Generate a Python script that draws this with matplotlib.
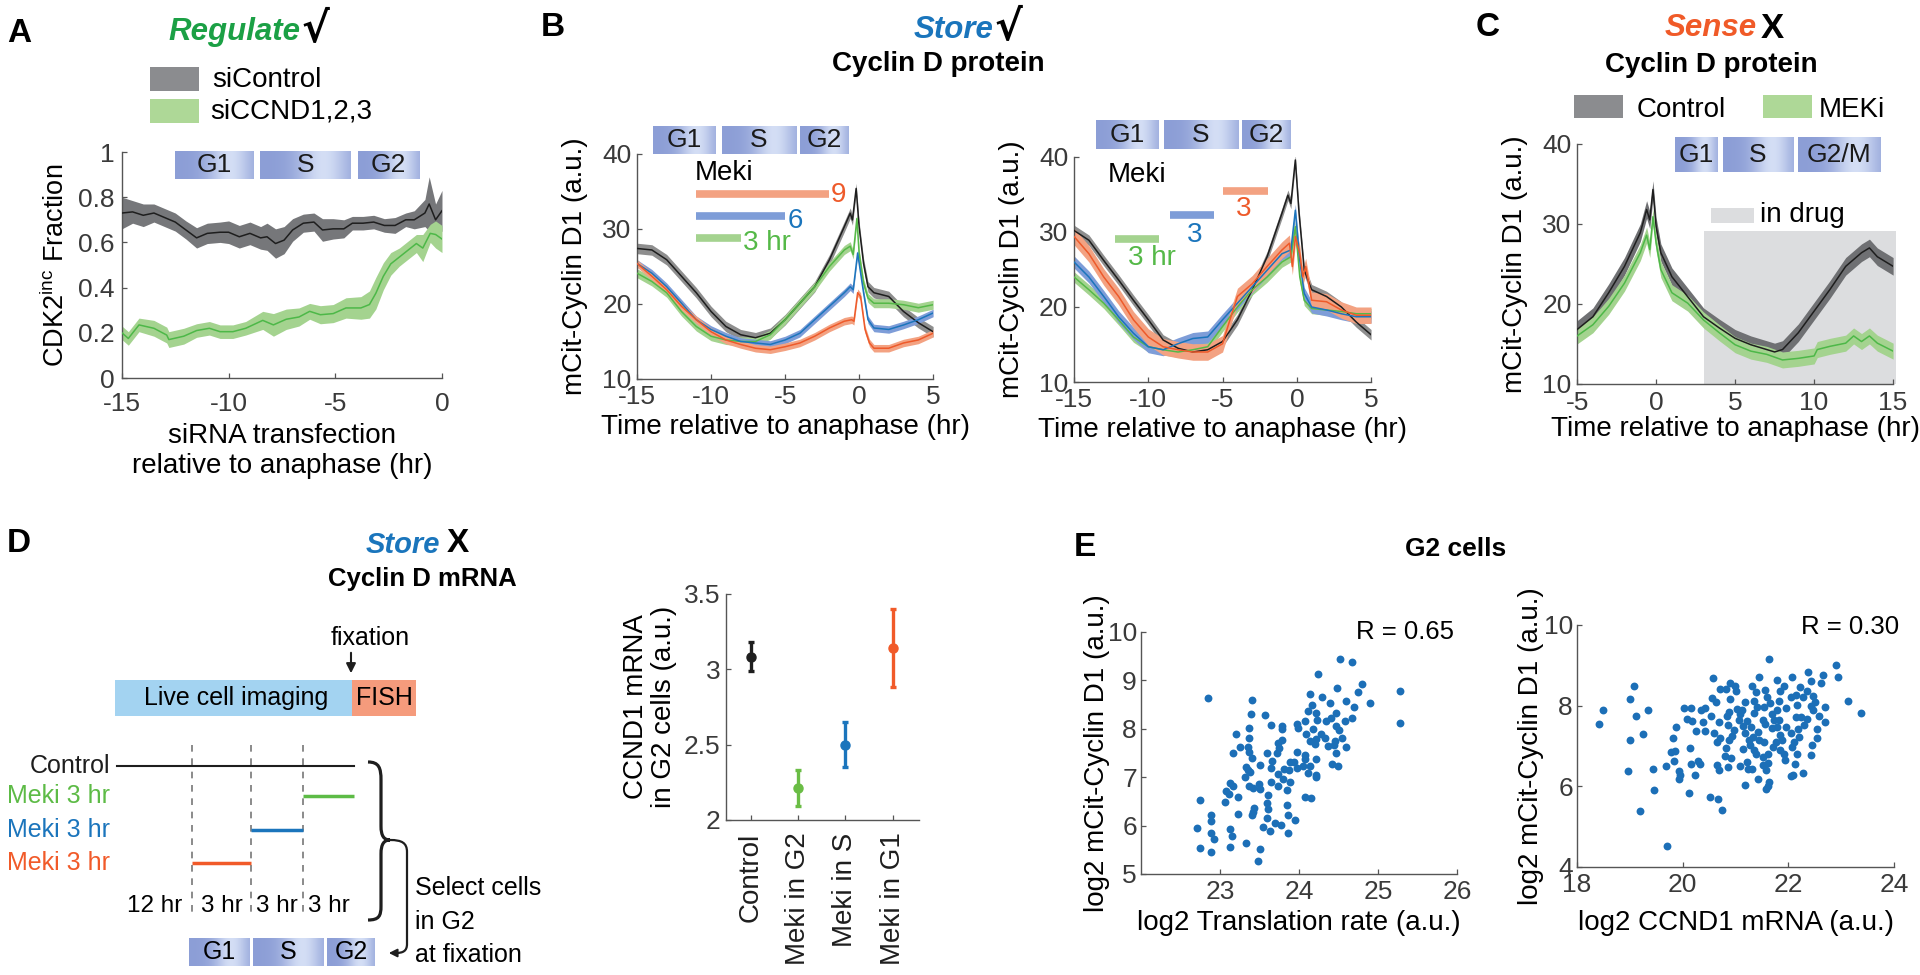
import numpy as np
import matplotlib
matplotlib.use("Agg")
import matplotlib.pyplot as plt
from matplotlib.patches import Rectangle, PathPatch
from matplotlib.path import Path

plt.rcParams['font.family'] = ['Liberation Sans', 'DejaVu Sans']
plt.rcParams['axes.unicode_minus'] = False

# --- colours ---
GREEN_T = '#1BA045'
BLUE_T = '#1A75BC'
ORANGE_T = '#F05A28'
C_BLACK = '#1e1e1e'
C_GREEN = '#55B948'
C_BLUE = '#1B75BC'
C_RED = '#EE5A2A'
B_GREEN = '#A4D38F'
B_BLUE = '#7E9DD8'
B_RED = '#F3A282'
SCAT = '#1C6FB7'
TICK_C = '#3a3a3a'

# --- panel A: CDK2inc fraction ---
a_ctrl_t = [-15, -14.5, -14, -13.5, -13, -12.5, -12, -11.5, -11, -10.4, -10, -9.5, -9, -8.5, -8.2, -7.8, -7.4,
            -7, -6.5, -6, -5.6, -5.1, -4.6, -4.2, -3.7, -3.2, -2.7, -2.2, -1.7, -1.3, -0.8, -0.6, -0.3, 0]
a_ctrl_v = [0.73, 0.735, 0.72, 0.73, 0.71, 0.69, 0.655, 0.62, 0.64, 0.645, 0.645, 0.625, 0.64, 0.62, 0.625, 0.595,
            0.61, 0.655, 0.685, 0.69, 0.655, 0.66, 0.66, 0.685, 0.685, 0.69, 0.675, 0.675, 0.70, 0.70, 0.73, 0.77,
            0.70, 0.74]
a_ctrl_hw = [0.07, 0.05, 0.05, 0.04, 0.04, 0.04, 0.04, 0.045, 0.045, 0.045, 0.05, 0.05, 0.05, 0.05, 0.06, 0.065,
             0.06, 0.05, 0.04, 0.04, 0.05, 0.045, 0.04, 0.03, 0.03, 0.03, 0.03, 0.035, 0.03, 0.04, 0.06, 0.12,
             0.07, 0.09]
a_si_t = [-15, -14.7, -14.2, -13.5, -12.9, -12.8, -12.1, -11.5, -10.9, -10.4, -9.8, -9.2, -8.4, -7.9, -7.3, -6.7,
          -6.2, -5.7, -5.1, -4.5, -3.8, -3.4, -3.1, -2.75, -2.4, -2.0, -1.6, -1.2, -0.9, -0.55, -0.3, 0]
a_si_v = [0.20, 0.175, 0.235, 0.22, 0.19, 0.17, 0.185, 0.21, 0.22, 0.205, 0.205, 0.22, 0.255, 0.235, 0.26, 0.27,
          0.295, 0.28, 0.285, 0.31, 0.31, 0.325, 0.375, 0.45, 0.505, 0.535, 0.565, 0.595, 0.575, 0.64, 0.635, 0.615]
a_si_hw = [0.03, 0.03, 0.03, 0.035, 0.035, 0.035, 0.035, 0.03, 0.03, 0.03, 0.03, 0.03, 0.04, 0.05, 0.045, 0.04,
           0.035, 0.04, 0.04, 0.045, 0.05, 0.06, 0.07, 0.06, 0.05, 0.04, 0.04, 0.04, 0.06, 0.04, 0.06, 0.06]
a_phase_edges = [(-12.53, -8.85), (-8.52, -4.26), (-3.93, -1.06)]

# --- panel B left: Meki 9 / 6 / 3 hr ---
bl_k_t = [-15, -14, -13, -12, -11, -10, -9, -8, -7, -6, -5, -4, -3, -2, -1, -0.6, -0.45, -0.2, 0, 0.3, 0.6, 1, 2, 3, 4, 5]
bl_k_v = [27.4, 27.2, 25.9, 23.7, 21.5, 19.0, 17.0, 15.9, 15.5, 16.1, 17.9, 20.1, 22.3, 25.9, 30.3, 32.1, 31.2, 35.4,
          30.3, 25.4, 22.3, 21.5, 21.0, 19.0, 17.5, 16.3]
bl_g_t = [-15, -14, -13, -12, -11, -10, -9, -8, -7, -6, -5, -4, -3, -2, -1, -0.6, -0.4, -0.15, 0, 0.3, 0.6, 1, 2, 3, 4, 5]
bl_g_v = [24.1, 23.0, 21.5, 19.0, 17.0, 15.7, 15.2, 15.0, 15.0, 15.9, 17.9, 20.1, 22.3, 25.0, 27.2, 27.7, 26.6, 31.4,
          26.8, 22.8, 20.8, 20.1, 20.1, 19.9, 19.5, 19.9]
bl_b_t = [-15, -14, -13, -12, -11, -10, -9, -8, -7, -6, -5, -4, -3, -2, -1, -0.6, -0.4, -0.1, 0.3, 0.6, 1, 2, 3, 4, 5]
bl_b_v = [25.4, 24.1, 22.3, 20.1, 17.9, 16.6, 15.7, 15.0, 14.8, 14.6, 15.2, 16.1, 17.9, 19.7, 21.5, 22.3, 21.9, 26.8,
          21.5, 17.9, 16.8, 16.6, 17.2, 17.9, 18.8]
bl_r_t = [-15, -14, -13, -12, -11, -10, -9, -8, -7, -6, -5, -4, -3, -2, -1, -0.5, -0.35, -0.1, 0.1, 0.4, 0.7, 1, 2, 3, 4, 5]
bl_r_v = [25.4, 23.7, 21.9, 19.7, 17.9, 16.3, 15.2, 14.6, 14.1, 13.9, 14.3, 14.8, 15.7, 16.8, 17.7, 17.9, 17.7, 21.5,
          21.0, 16.6, 14.8, 14.1, 14.1, 14.8, 15.2, 16.1]
bl_hw = [0.7, 0.6, 0.5, 0.5]
bl_drug_start = -11
bl_drug_len = [9, 6, 3]
bl_drug_y = [34.7, 31.7, 28.8]
bl_phase_edges = [(-13.94, -9.74), (-9.29, -4.26), (-3.99, -0.74)]

# --- panel B right: Meki 3 hr windows ---
br_k_t = [-15, -14, -13, -12, -11, -10, -9, -8, -7, -6, -5, -4, -3, -2, -1, -0.6, -0.4, -0.1, 0.15, 0.5, 1, 2, 3, 4, 5]
br_k_v = [30.2, 28.9, 26.2, 23.6, 20.9, 18.3, 15.6, 14.5, 14.0, 14.3, 15.4, 18.3, 22.3, 26.7, 32.5, 34.9, 33.8, 39.6,
          32.5, 24.9, 22.3, 21.4, 20.0, 18.0, 16.3]
br_gb_t = [-15, -14, -13, -12, -11, -10, -9, -8, -7, -6, -5, -4, -3, -2, -1, -0.4, -0.1, 0.2, 0.5, 1, 2, 3, 4, 5]
br_g_v = [24.0, 22.3, 20.5, 18.3, 16.0, 14.7, 14.3, 14.0, 14.3, 14.7, 17.4, 20.0, 22.3, 24.0, 26.0, 26.7, 30.7, 24.0,
          20.9, 19.8, 19.6, 19.4, 19.1, 19.1]
br_b_v = [26.0, 24.0, 21.4, 18.7, 16.5, 14.7, 14.3, 15.1, 15.8, 16.0, 18.3, 20.5, 22.7, 24.9, 27.1, 27.6, 32.9, 26.2,
          21.8, 20.0, 19.6, 19.1, 18.7, 18.7]
br_r_t = [-15, -14, -13, -12, -11, -10, -9, -8, -7, -6, -5, -4.5, -4, -3, -2, -1, -0.5, -0.3, -0.1, 0.2, 0.4, 0.6, 1,
          2, 3, 4, 5]
br_r_v = [29.4, 27.1, 24.0, 21.4, 18.3, 16.0, 14.7, 14.3, 14.0, 14.0, 15.1, 18.3, 21.4, 23.1, 25.4, 27.6, 28.5, 25.4,
          29.4, 27.1, 24.0, 25.4, 20.9, 20.7, 19.6, 18.9, 18.9]
br_hw = [0.7, 0.7, 0.8, 1.1]
br_drug_start = [-12.25, -8.55, -4.95]
br_drug_len = 3
br_drug_y = [29.1, 32.3, 35.5]
br_phase_edges = [(-13.54, -9.31), (-8.97, -3.95), (-3.68, -0.40)]

# --- panel C: control vs MEKi ---
c_k_t = [-5, -4, -3, -2, -1, -0.6, -0.4, -0.2, 0, 0.3, 0.7, 1, 2, 3, 4, 5, 6, 7, 7.5, 8, 9, 10, 11, 12, 13, 13.5, 14, 15]
c_k_v = [16.8, 18.4, 21.4, 24.7, 28.9, 31.8, 30.5, 34.3, 29.7, 26.4, 24.7, 23.4, 20.9, 18.4, 17.0, 15.7, 14.9, 14.3,
         14.0, 14.3, 16.4, 19.1, 21.8, 24.7, 26.4, 27.0, 25.9, 24.7]
c_g_t = [-5, -4, -3, -2, -1, -0.6, -0.4, -0.2, 0, 0.3, 1, 2, 3, 4, 5, 6, 7, 8, 9, 10, 10.2, 11, 12, 12.5, 13, 13.5, 14, 15]
c_g_v = [16.0, 17.4, 19.7, 22.6, 26.4, 28.6, 26.8, 30.9, 27.6, 24.3, 21.4, 20.1, 18.0, 16.4, 14.9, 14.1, 13.7, 13.0,
         13.2, 13.5, 14.3, 14.7, 15.1, 16.0, 15.3, 16.0, 15.1, 14.1]
c_hw = [1.1, 1.0]
c_drug_window = (3.0, 15.2, 29.1)
c_phase_edges = [(1.18, 3.86), (4.22, 8.65), (8.97, 14.2)]

# --- panel D: CCND1 mRNA in G2 cells ---
d_cats = ['Control', 'Meki in G2', 'Meki in S', 'Meki in G1']
d_mean = [3.08, 2.21, 2.50, 3.14]
d_lo = [2.99, 2.09, 2.35, 2.88]
d_hi = [3.18, 2.33, 2.65, 3.40]
d_cols = [C_BLACK, '#6ABD45', C_BLUE, '#F15A29']

# --- panel E: G2 cells ---
e1_x = [24.52, 24.67, 24.24, 24.80, 24.48, 24.74, 24.90, 22.85, 23.40, 24.14,
        24.29, 24.59, 24.39, 24.70, 24.16, 24.11, 23.39, 23.57, 24.22, 24.47,
        24.41, 24.67, 24.07, 24.23, 24.34, 24.58, 23.97, 23.65, 23.79, 23.78,
        23.36, 23.99, 24.17, 24.47, 24.51, 23.20, 24.09, 24.28, 23.37, 24.33,
        24.54, 24.21, 24.14, 24.45, 23.78, 23.73, 23.25, 23.35, 24.20, 24.37,
        24.44, 24.60, 23.74, 23.17, 23.36, 23.60, 23.72, 23.97, 24.47, 23.40,
        24.08, 24.07, 24.22, 23.66, 23.88, 23.94, 23.50, 23.33, 23.64, 24.05,
        24.14, 24.42, 24.49, 23.97, 23.81, 23.87, 23.35, 23.38, 24.11, 23.73,
        24.22, 23.31, 24.22, 23.80, 23.64, 23.89, 23.13, 23.16, 23.37, 23.49,
        23.42, 23.50, 23.73, 23.85, 23.07, 23.11, 23.23, 23.61, 24.07, 24.15,
        22.75, 23.06, 23.59, 23.85, 23.61, 23.43, 23.42, 22.88, 23.23, 23.41,
        23.60, 23.86, 22.89, 23.95, 23.70, 23.77, 22.71, 23.12, 23.54, 23.63,
        23.86, 22.88, 23.15, 22.92, 23.33, 22.75, 23.13, 22.88, 23.51, 23.48,
        25.28, 25.28]
e1_y = [9.45, 9.38, 9.14, 8.93, 8.84, 8.76, 8.54, 8.64, 8.60, 8.71,
        8.66, 8.58, 8.53, 8.45, 8.49, 8.37, 8.30, 8.28, 8.32, 8.32,
        8.23, 8.23, 8.17, 8.18, 8.16, 8.16, 8.09, 8.08, 8.05, 8.00,
        8.01, 8.02, 8.00, 8.06, 7.97, 7.90, 7.90, 7.89, 7.82, 7.80,
        7.82, 7.78, 7.75, 7.75, 7.77, 7.71, 7.63, 7.63, 7.68, 7.64,
        7.66, 7.62, 7.61, 7.50, 7.53, 7.51, 7.51, 7.52, 7.49, 7.39,
        7.45, 7.37, 7.38, 7.33, 7.32, 7.32, 7.25, 7.22, 7.20, 7.23,
        7.24, 7.27, 7.24, 7.18, 7.17, 7.15, 7.15, 7.10, 7.08, 7.07,
        7.05, 7.01, 7.00, 6.97, 6.91, 6.91, 6.88, 6.82, 6.81, 6.86,
        6.77, 6.75, 6.81, 6.73, 6.71, 6.66, 6.60, 6.63, 6.60, 6.56,
        6.52, 6.48, 6.46, 6.42, 6.34, 6.36, 6.29, 6.21, 6.23, 6.21,
        6.16, 6.21, 6.10, 6.12, 6.05, 6.02, 5.95, 5.93, 5.97, 5.88,
        5.85, 5.84, 5.78, 5.73, 5.65, 5.53, 5.55, 5.45, 5.51, 5.26,
        8.78, 8.12]
e2_x = [21.63, 22.90, 22.93, 22.37, 22.65, 20.58, 21.45, 22.06, 21.79, 22.62,
        22.42, 19.07, 20.90, 20.99, 20.71, 20.82, 21.31, 21.91, 22.21, 21.56,
        21.00, 21.39, 21.84, 22.15, 22.28, 22.46, 19.00, 20.56, 20.89, 21.59,
        22.04, 20.62, 21.17, 21.35, 21.82, 23.12, 22.50, 21.65, 22.16, 18.49,
        19.34, 20.02, 20.16, 20.42, 20.34, 21.03, 21.13, 22.70, 21.96, 22.46,
        23.37, 21.08, 21.34, 21.69, 20.83, 19.11, 20.54, 22.14, 22.58, 20.08,
        20.17, 21.21, 21.52, 21.82, 22.35, 22.24, 20.38, 22.70, 20.68, 18.42,
        21.56, 20.86, 21.14, 21.29, 21.96, 19.87, 21.69, 22.18, 22.54, 20.26,
        20.42, 20.60, 21.17, 21.43, 19.24, 20.93, 21.33, 21.84, 22.20, 19.81,
        20.71, 19.00, 22.54, 20.87, 20.64, 21.53, 21.77, 22.10, 21.28, 22.44,
        20.13, 20.81, 21.14, 21.70, 22.07, 19.85, 19.77, 21.38, 21.62, 21.91,
        22.42, 20.80, 20.92, 21.51, 21.21, 19.84, 20.28, 21.93, 20.15, 20.32,
        20.65, 20.85, 21.09, 22.13, 19.69, 19.44, 21.51, 21.61, 20.69, 21.32,
        21.24, 18.96, 19.92, 19.94, 20.24, 22.28, 21.58, 22.04, 22.09, 21.43,
        19.92, 21.64, 21.18, 21.62, 21.58, 19.45, 20.11, 20.52, 20.66, 20.74,
        19.20, 19.70, 20.97, 21.25, 21.44, 21.79, 21.88, 22.04, 21.72, 21.53,
        21.79, 22.29, 22.42, 21.34, 21.85, 22.16, 21.06, 20.87, 22.35, 21.41]
e2_y = [9.16, 9.01, 8.72, 8.84, 8.76, 8.68, 8.72, 8.71, 8.64, 8.56,
        8.62, 8.49, 8.56, 8.49, 8.41, 8.41, 8.49, 8.49, 8.45, 8.39,
        8.37, 8.33, 8.37, 8.27, 8.22, 8.24, 8.17, 8.18, 8.16, 8.21,
        8.21, 8.09, 8.10, 8.12, 8.12, 8.12, 8.08, 8.06, 8.02, 7.89,
        7.90, 7.93, 7.93, 7.95, 7.88, 7.92, 7.89, 7.96, 7.93, 7.88,
        7.82, 7.79, 7.81, 7.79, 7.74, 7.74, 7.74, 7.73, 7.75, 7.66,
        7.63, 7.63, 7.64, 7.64, 7.67, 7.71, 7.60, 7.60, 7.59, 7.54,
        7.54, 7.53, 7.49, 7.46, 7.48, 7.48, 7.44, 7.41, 7.41, 7.38,
        7.37, 7.31, 7.33, 7.35, 7.29, 7.25, 7.23, 7.27, 7.23, 7.20,
        7.21, 7.15, 7.20, 7.15, 7.10, 7.10, 7.10, 7.10, 7.02, 7.02,
        6.95, 6.94, 6.92, 6.98, 6.98, 6.88, 6.84, 6.81, 6.81, 6.81,
        6.77, 6.76, 6.69, 6.73, 6.61, 6.62, 6.63, 6.65, 6.55, 6.55,
        6.52, 6.48, 6.50, 6.55, 6.50, 6.44, 6.52, 6.59, 6.40, 6.44,
        6.42, 6.38, 6.37, 6.27, 6.29, 6.32, 6.40, 6.26, 6.27, 6.19,
        6.19, 6.11, 6.02, 6.01, 5.93, 5.92, 5.84, 5.73, 5.69, 5.42,
        5.38, 4.51, 7.39, 7.15, 7.15, 7.48, 7.15, 7.31, 7.64, 7.97,
        7.89, 7.52, 7.98, 6.90, 6.90, 6.81, 7.64, 7.85, 8.36, 7.97]

# font sizes (pt)
FS_TICK = 19
FS_LAB = 20


def grad_img(n=80):
    s = np.linspace(0, 1, n)
    w = np.exp(-((s - 0.7) / 0.28) ** 2)
    dark = np.array([0.55, 0.62, 0.84])
    light = np.array([0.83, 0.87, 0.96])
    return (dark + (light - dark) * w[:, None])[None, :, :]


def phase_boxes(ax, edges, labels, y0, y1, fs=19):
    for (a, b), lab in zip(edges, labels):
        im = ax.imshow(grad_img(), extent=(a, b, y0, y1), aspect='auto', zorder=6,
                       interpolation='bilinear')
        im.set_clip_on(False)
        ax.text((a + b) / 2, (y0 + y1) / 2, lab, ha='center', va='center', fontsize=fs,
                color='#1a1a1a', zorder=7, clip_on=False)


def style(ax, xlim, ylim, xticks, yticks, fs=FS_TICK, xtl=None, ytl=None, xpad=4, ypad=4):
    ax.set_xlim(*xlim)
    ax.set_ylim(*ylim)
    ax.set_xticks(xticks)
    ax.set_yticks(yticks)
    if xtl is not None:
        ax.set_xticklabels(xtl)
    if ytl is not None:
        ax.set_yticklabels(ytl)
    for s in ['top', 'right']:
        ax.spines[s].set_visible(False)
    for s in ['left', 'bottom']:
        ax.spines[s].set_color('#555555')
        ax.spines[s].set_linewidth(1.0)
    ax.tick_params(direction='in', length=3.5, width=0.9, color='#555555', labelsize=fs,
                   labelcolor=TICK_C)
    ax.tick_params(axis='x', pad=xpad)
    ax.tick_params(axis='y', pad=ypad)
    ax.patch.set_alpha(0)


def series(ax, t, v, hw, band, line, lw=1.1):
    t = np.asarray(t, float)
    v = np.asarray(v, float)
    hw = np.asarray(hw, float)
    ax.fill_between(t, v - hw, v + hw, color=band, lw=0, zorder=2)
    ax.plot(t, v, color=line, lw=lw, zorder=3)


fig = plt.figure(figsize=(19.2, 9.75), dpi=100)

# overlay axes in pixel coordinates for titles, legends and the schematic
ov = fig.add_axes([0, 0, 1, 1], zorder=-1)
ov.axis('off')

# ---------------- Panel A ----------------
axA = fig.add_axes([0.0635, 0.6123, 0.1667, 0.2318])
series(axA, a_ctrl_t, a_ctrl_v, a_ctrl_hw, '#76777A', C_BLACK)
series(axA, a_si_t, a_si_v, a_si_hw, B_GREEN, '#4DB848')
phase_boxes(axA, a_phase_edges, ['G1', 'S', 'G2'], 0.882, 1.004)
style(axA, (-15, 0), (0, 1), [-15, -10, -5, 0], [0, 0.2, 0.4, 0.6, 0.8, 1],
      ytl=['0', '0.2', '0.4', '0.6', '0.8', '1'], xpad=10, ypad=5)
axA.set_ylabel('CDK2$^{\\mathregular{inc}}$ Fraction', fontsize=19.5, labelpad=6)
axA.set_xlabel('siRNA transfection\nrelative to anaphase (hr)', fontsize=FS_LAB, labelpad=5, linespacing=1.2)

# ---------------- Panel B left ----------------
axB1 = fig.add_axes([0.3318, 0.6113, 0.1542, 0.2308])
series(axB1, bl_k_t, bl_k_v, bl_hw[0], '#8e8e8e', C_BLACK)
series(axB1, bl_g_t, bl_g_v, bl_hw[1], B_GREEN, C_GREEN)
series(axB1, bl_b_t, bl_b_v, bl_hw[2], B_BLUE, C_BLUE)
series(axB1, bl_r_t, bl_r_v, bl_hw[3], B_RED, C_RED)
for L, y, c in zip(bl_drug_len, bl_drug_y, [B_RED, B_BLUE, B_GREEN]):
    axB1.plot([bl_drug_start, bl_drug_start + L], [y, y], color=c, lw=5.5, solid_capstyle='butt', zorder=4)
axB1.text(-11.13, 37.4, 'Meki', fontsize=20, va='center', ha='left')
axB1.text(-1.4, 34.5, '9', fontsize=20, va='center', ha='center', color=C_RED)
axB1.text(-4.28, 31.0, '6', fontsize=20, va='center', ha='center', color=C_BLUE)
axB1.text(-7.85, 28.1, '3 hr', fontsize=20, va='center', ha='left', color=C_GREEN)
phase_boxes(axB1, bl_phase_edges, ['G1', 'S', 'G2'], 40.0, 43.7)
style(axB1, (-15, 5), (10, 40), [-15, -10, -5, 0, 5], [10, 20, 30, 40])
axB1.set_ylabel('mCit-Cyclin D1 (a.u.)', fontsize=FS_LAB, labelpad=10)
axB1.set_xlabel('Time relative to anaphase (hr)', fontsize=FS_LAB, labelpad=4)

# ---------------- Panel B right ----------------
axB2 = fig.add_axes([0.5594, 0.6082, 0.1547, 0.2308])
series(axB2, br_k_t, br_k_v, br_hw[0], '#8e8e8e', C_BLACK)
series(axB2, br_gb_t, br_g_v, br_hw[1], B_GREEN, C_GREEN)
series(axB2, br_gb_t, br_b_v, br_hw[2], B_BLUE, C_BLUE)
series(axB2, br_r_t, br_r_v, br_hw[3], B_RED, C_RED)
for s0, y, c in zip(br_drug_start, br_drug_y, [B_GREEN, B_BLUE, B_RED]):
    axB2.plot([s0, s0 + br_drug_len], [y, y], color=c, lw=5.5, solid_capstyle='butt', zorder=4)
axB2.text(-12.75, 37.6, 'Meki', fontsize=20, va='center', ha='left')
axB2.text(-11.36, 26.5, '3 hr', fontsize=20, va='center', ha='left', color=C_GREEN)
axB2.text(-6.86, 29.6, '3', fontsize=20, va='center', ha='center', color=C_BLUE)
axB2.text(-3.55, 33.1, '3', fontsize=20, va='center', ha='center', color=C_RED)
phase_boxes(axB2, br_phase_edges, ['G1', 'S', 'G2'], 41.0, 44.75)
style(axB2, (-15, 5), (10, 40), [-15, -10, -5, 0, 5], [10, 20, 30, 40])
axB2.set_ylabel('mCit-Cyclin D1 (a.u.)', fontsize=FS_LAB, labelpad=10)
axB2.set_xlabel('Time relative to anaphase (hr)', fontsize=FS_LAB, labelpad=4)

# ---------------- Panel C ----------------
axC = fig.add_axes([0.8214, 0.6062, 0.1646, 0.2462])
d0, d1, dtop = c_drug_window
axC.add_patch(Rectangle((d0, 10), d1 - d0, dtop - 10, color='#DCDDDF', lw=0, zorder=1, clip_on=False))
axC.add_patch(Rectangle((3.48, 30.1), 2.7, 1.9, color='#DCDDDF', lw=0, zorder=1, clip_on=False))
axC.text(6.6, 31.1, 'in drug', fontsize=20, va='center', ha='left')
series(axC, c_k_t, c_k_v, c_hw[0], '#6f7073', C_BLACK)
series(axC, c_g_t, c_g_v, c_hw[1], B_GREEN, '#4DB848')
phase_boxes(axC, c_phase_edges, ['G1', 'S', 'G2/M'], 36.5, 40.8)
style(axC, (-5, 15), (10, 40), [-5, 0, 5, 10, 15], [10, 20, 30, 40], xpad=5)
axC.set_ylabel('mCit-Cyclin D1 (a.u.)', fontsize=FS_LAB, labelpad=10)
axC.set_xlabel('Time relative to anaphase (hr)', fontsize=FS_LAB, labelpad=1)

# ---------------- Panel D dot plot ----------------
axD = fig.add_axes([0.3781, 0.159, 0.1005, 0.2318])
xs = np.arange(1, len(d_cats) + 1)
for xi, m, lo, hi, c in zip(xs, d_mean, d_lo, d_hi, d_cols):
    axD.errorbar([xi], [m], yerr=[[m - lo], [hi - m]], fmt='o', color=c, ms=6.5, lw=2.4,
                 capsize=2.5, capthick=2.4, zorder=3)
style(axD, (0.48, 4.55), (2, 3.5), xs, [2, 2.5, 3, 3.5], xtl=d_cats, ytl=['2', '2.5', '3', '3.5'])
axD.tick_params(axis='x', labelsize=20, labelrotation=90, labelcolor=C_BLACK, pad=9)
axD.set_ylabel('CCND1 mRNA\nin G2 cells (a.u.)', fontsize=20, labelpad=5, linespacing=1.1)

# ---------------- Panel E scatter ----------------
axE1 = fig.add_axes([0.5943, 0.1036, 0.1646, 0.2482])
axE1.scatter(e1_x, e1_y, s=32, color=SCAT, lw=0, zorder=3)
style(axE1, (22, 26), (5, 10), [23, 24, 25, 26], [5, 6, 7, 8, 9, 10], xpad=4.5, ypad=3)
axE1.text(0.99, 1.0, 'R = 0.65', transform=axE1.transAxes, ha='right', va='center', fontsize=18.5)
axE1.set_ylabel('log2 mCit-Cyclin D1 (a.u.)', fontsize=FS_LAB, labelpad=-2)
axE1.set_xlabel('log2 Translation rate (a.u.)', fontsize=FS_LAB, labelpad=4)

axE2 = fig.add_axes([0.8214, 0.1108, 0.1651, 0.2482])
axE2.scatter(e2_x, e2_y, s=32, color=SCAT, lw=0, zorder=3)
style(axE2, (18, 24), (4, 10), [18, 20, 22, 24], [4, 6, 8, 10], xpad=4.5, ypad=3)
axE2.text(1.015, 0.99, 'R = 0.30', transform=axE2.transAxes, ha='right', va='center', fontsize=18.5)
axE2.set_ylabel('log2 mCit-Cyclin D1 (a.u.)', fontsize=FS_LAB, labelpad=0)
axE2.set_xlabel('log2 CCND1 mRNA (a.u.)', fontsize=FS_LAB, labelpad=9)

# ---------------- titles, panel letters, legends (pixel coords) ----------------
for lab, x, y in [('A', 7, 33), ('B', 541, 28), ('C', 1476, 28), ('D', 7, 544), ('E', 1074, 548)]:
    ov.text(x, y, lab, fontsize=24, fontweight='bold', ha='left', va='center')

ov.text(300, 32, 'Regulate', color=GREEN_T, fontsize=22.5, fontstyle='italic', fontweight='bold', ha='right', va='center')
ov.text(301, 30, '\u221a', fontsize=30, fontweight='bold', ha='left', va='center', family='DejaVu Sans')
ov.text(993, 30, 'Store', color=BLUE_T, fontsize=22.5, fontstyle='italic', fontweight='bold', ha='right', va='center')
ov.text(994, 28, '\u221a', fontsize=30, fontweight='bold', ha='left', va='center', family='DejaVu Sans')
ov.text(938, 64, 'Cyclin D protein', fontsize=20, fontweight='bold', ha='center', va='center')
ov.text(1757, 28, 'Sense', color=ORANGE_T, fontsize=22.5, fontstyle='italic', fontweight='bold', ha='right', va='center')
ov.text(1761, 28, 'X', fontsize=25, fontweight='bold', ha='left', va='center')
ov.text(1711, 65, 'Cyclin D protein', fontsize=20, fontweight='bold', ha='center', va='center')
ov.text(440, 545, 'Store', color=BLUE_T, fontsize=21, fontstyle='italic', fontweight='bold', ha='right', va='center')
ov.text(447, 544, 'X', fontsize=24, fontweight='bold', ha='left', va='center')
ov.text(422, 579, 'Cyclin D mRNA', fontsize=18.5, fontweight='bold', ha='center', va='center')
ov.text(1456, 549, 'G2 cells', fontsize=19, fontweight='bold', ha='center', va='center')

# legend A
ov.add_patch(Rectangle((150, 67), 49, 24, color='#8B8C8F', lw=0))
ov.add_patch(Rectangle((150, 99), 49, 24, color='#AED897', lw=0))
ov.text(212, 80, 'siControl', fontsize=20, va='center', ha='left')
ov.text(210, 112, 'siCCND1,2,3', fontsize=20, va='center', ha='left')
# legend C
ov.add_patch(Rectangle((1574, 95), 49, 23, color='#8B8C8F', lw=0))
ov.add_patch(Rectangle((1763, 95), 49, 23, color='#AED897', lw=0))
ov.text(1637, 110, 'Control', fontsize=20, va='center', ha='left')
ov.text(1819, 110, 'MEKi', fontsize=20, va='center', ha='left')

# ---------------- D schematic (pixel coords) ----------------
sch_bounds = [117, 192, 251, 303, 354]
sch_hours = ['12 hr', '3 hr', '3 hr', '3 hr']
sch_rows = ['Control', 'Meki 3 hr', 'Meki 3 hr', 'Meki 3 hr']
sch_row_y = [766, 796, 830, 863]
sch_row_col = [C_BLACK, '#5DBB46', C_BLUE, '#F15A29']

ov.text(370, 638, 'fixation', fontsize=18, ha='center', va='center')
ov.annotate('', xy=(351, 676), xytext=(351, 650),
            arrowprops=dict(arrowstyle='-|>', color=C_BLACK, lw=1.5, mutation_scale=14))
ov.add_patch(Rectangle((115, 680), 237, 36, color='#A3D3F1', lw=0))
ov.add_patch(Rectangle((352, 680), 64, 36, color='#F59B7C', lw=0))
ov.text(236, 698, 'Live cell imaging', fontsize=18, ha='center', va='center')
ov.text(384, 698, 'FISH', fontsize=18, ha='center', va='center')

for xb in sch_bounds[1:4]:
    ov.plot([xb, xb], [745, 913], color='#777777', lw=1.2, ls=(0, (4, 4)))
ov.plot([sch_bounds[0], sch_bounds[4]], [sch_row_y[0], sch_row_y[0]], color=C_BLACK, lw=1.5)
for i, (y, c) in enumerate(zip(sch_row_y[1:], sch_row_col[1:])):
    x0, x1 = sch_bounds[3 - i], sch_bounds[4 - i]
    ov.plot([x0, x1], [y, y], color=c, lw=2.5, solid_capstyle='butt')
for lab, y, c in zip(sch_rows, sch_row_y, sch_row_col):
    ov.text(110, y, lab, fontsize=18, ha='right', va='center', color=c)
for i, lab in enumerate(sch_hours):
    xc = (sch_bounds[i] + sch_bounds[i + 1]) / 2
    ov.text(xc, 906, lab, fontsize=17.5, ha='center', va='center')

brace = Path([(368, 762), (379, 762), (381, 768), (381, 780), (381, 826), (381, 836), (384, 840), (390, 840),
              (384, 840), (381, 844), (381, 854), (381, 906), (381, 916), (379, 920), (368, 920)],
             [Path.MOVETO, Path.CURVE4, Path.CURVE4, Path.CURVE4, Path.LINETO, Path.CURVE4, Path.CURVE4,
              Path.CURVE4, Path.CURVE4, Path.CURVE4, Path.CURVE4, Path.LINETO, Path.CURVE4, Path.CURVE4,
              Path.CURVE4])
ov.add_patch(PathPatch(brace, fill=False, lw=2.3, color=C_BLACK))
conn = Path([(390, 840), (402, 840), (407, 843), (407, 852), (407, 944), (407, 951), (403, 953), (396, 953)],
            [Path.MOVETO, Path.CURVE4, Path.CURVE4, Path.CURVE4, Path.LINETO, Path.CURVE4, Path.CURVE4,
             Path.CURVE4])
ov.add_patch(PathPatch(conn, fill=False, lw=1.6, color=C_BLACK))
ov.annotate('', xy=(386, 953), xytext=(397, 953),
            arrowprops=dict(arrowstyle='-|>', color=C_BLACK, lw=1.4, mutation_scale=12))
ov.text(415, 888, 'Select cells', fontsize=18, ha='left', va='center')
ov.text(415, 922, 'in G2', fontsize=18, ha='left', va='center')
ov.text(415, 955, 'at fixation', fontsize=18, ha='left', va='center')

sch_phase_edges = [(189, 250), (253, 324), (327, 375)]
for (a, b), lab in zip(sch_phase_edges, ['G1', 'S', 'G2']):
    ov.imshow(grad_img(), extent=(a, b, 966, 938), aspect='auto', zorder=2, interpolation='bilinear')
    ov.text((a + b) / 2, 952, lab, fontsize=18, ha='center', va='center', zorder=3)

ov.set_xlim(0, 1920)
ov.set_ylim(975, 0)

fig.savefig('out.png', dpi=100)
